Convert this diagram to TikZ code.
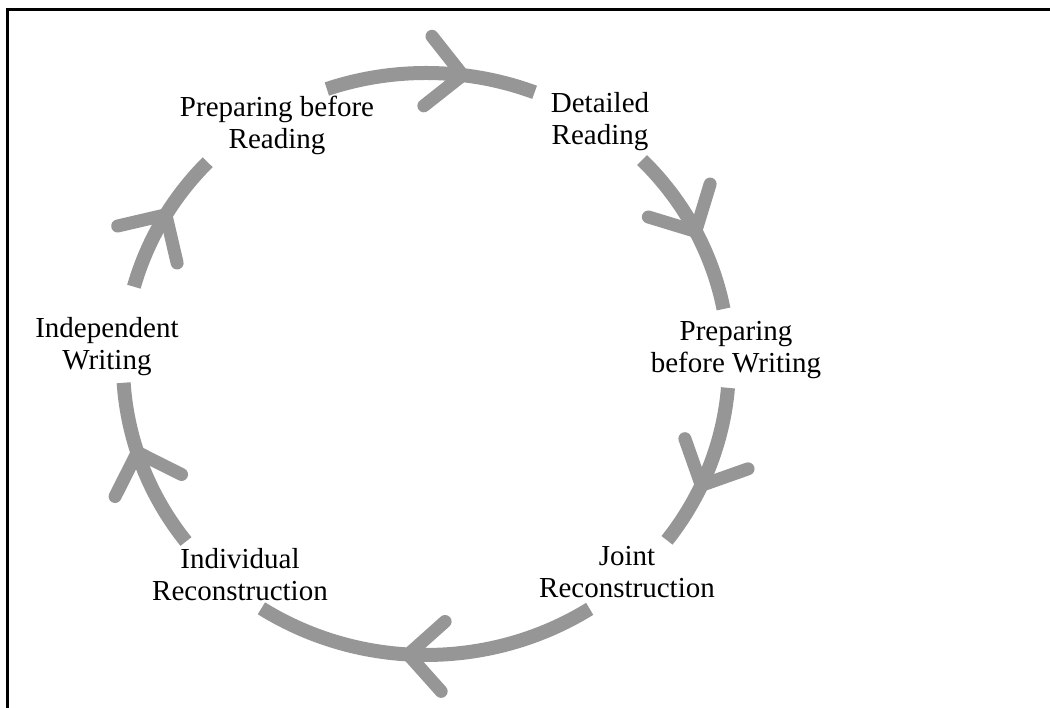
\documentclass[tikz,border=0pt]{standalone}
\usepackage{fontspec}
\setmainfont{Liberation Serif}
\usetikzlibrary{decorations.markings}
\definecolor{flowgray}{RGB}{150,150,150}
\begin{document}
\begin{tikzpicture}[x=1pt,y=1pt,
  flow/.style={draw=flowgray,line width=14pt,line cap=butt},
  barb/.style={draw=flowgray,line width=13pt,line cap=round,line join=round},
  arrowat/.style={postaction={decorate},decoration={markings,
     mark=at position #1 with {\draw[barb] (-35,35) -- (0,0) -- (-35,-35);}}},
  lbl/.style={font=\fontsize{29}{32}\selectfont,align=center,inner sep=0pt}]
\useasboundingbox (0,0) rectangle (1050,708);
% frame (left and top edges)
\draw[line width=3pt,line cap=butt] (7.5,0) -- (7.5,698.5) -- (1050,698.5);
% labels
\node[lbl] (pbr) at (277,583) {Preparing before\\Reading};
\node[lbl] (dr)  at (600,586) {Detailed\\Reading};
\node[lbl] (pbw) at (736,358) {Preparing\\before Writing};
\node[lbl] (jr)  at (627,136) {Joint\\Reconstruction};
\node[lbl] (ir)  at (240,133) {Individual\\Reconstruction};
\node[lbl] (iw)  at (107,361) {Independent\\Writing};
% cycle centre and arc start points
\coordinate (c) at (426,344);
\coordinate (s1) at ([shift={(109.1:303 and 291)}]c);
\coordinate (s2) at ([shift={(44.5:303 and 291)}]c);
\coordinate (s3) at ([shift={(-4.7:303 and 291)}]c);
\coordinate (s4) at ([shift={(-57.3:303 and 291)}]c);
\coordinate (s5) at ([shift={(-142.4:303 and 291)}]c);
\coordinate (s6) at ([shift={(164.6:303 and 291)}]c);
% arcs with arrowheads
\draw[flow,arrowat=0.65] (s1) arc[start angle=109.1,end angle=69.0,x radius=303,y radius=291];
\draw[flow,arrowat=0.52] (s2) arc[start angle=44.5,end angle=10.9,x radius=303,y radius=291];
\draw[flow,arrowat=0.61] (s3) arc[start angle=-4.7,end angle=-37.3,x radius=303,y radius=291];
\draw[flow,arrowat=0.55] (s4) arc[start angle=-57.3,end angle=-122.9,x radius=303,y radius=291];
\draw[flow,arrowat=0.59] (s5) arc[start angle=-142.4,end angle=-176.3,x radius=303,y radius=291];
\draw[flow,arrowat=0.54] (s6) arc[start angle=164.6,end angle=136.1,x radius=303,y radius=291];
\end{tikzpicture}
\end{document}
